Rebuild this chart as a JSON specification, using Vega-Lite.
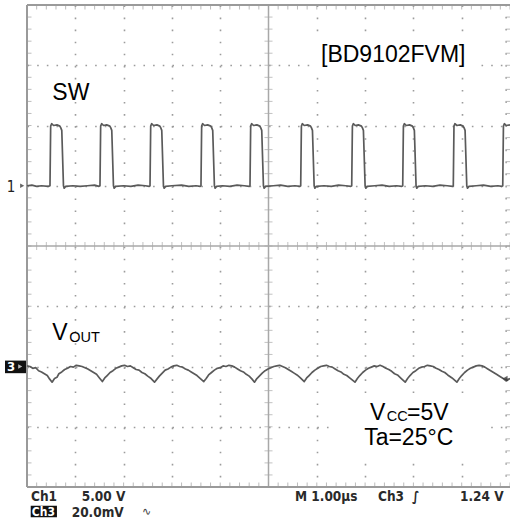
{
  "$schema": "https://vega.github.io/schema/vega-lite/v6.json",
  "width": 483,
  "height": 482,
  "autosize": {"type": "none"},
  "padding": {"left": 27, "top": 5, "right": 0, "bottom": 38},
  "background": "white",
  "config": {"view": {"stroke": null}},
  "datasets": {
    "mx": [0,0.2,0.4,0.6,0.8,1,1.2,1.4,1.6,1.8,2,2.2,2.4,2.6,2.8,3,3.2,3.4,3.6,3.8,4,4.2,4.4,4.6,4.8,5,5.2,5.4,5.6,5.8,6,6.2,6.4,6.6,6.8,7,7.2,7.4,7.6,7.8,8,8.2,8.4,8.6,8.8,9,9.2,9.4,9.6,9.8,10],
    "my": [-4,-3.8,-3.6,-3.4,-3.2,-3,-2.8,-2.6,-2.4,-2.2,-2,-1.8,-1.6,-1.4,-1.2,-1,-0.8,-0.6,-0.4,-0.2,0,0.2,0.4,0.6,0.8,1,1.2,1.4,1.6,1.8,2,2.2,2.4,2.6,2.8,3,3.2,3.4,3.6,3.8,4],
    "sw": [
      {"t":0,"v":1.0},{"t":0.1,"v":1.01},{"t":0.2,"v":0.99},{"t":0.3,"v":1.0},{"t":0.44,"v":0.99},
      {"t":0.476,"v":1.0},{"t":0.49,"v":1.99},{"t":0.51,"v":2.03},{"t":0.55,"v":2.0},{"t":0.62,"v":2.01},{"t":0.68,"v":1.99},{"t":0.7,"v":1.96},{"t":0.72,"v":1.92},{"t":0.755,"v":1.0},{"t":0.77,"v":0.96},{"t":0.8,"v":0.99},{"t":0.95,"v":1.0},{"t":1.1,"v":0.99},{"t":1.25,"v":1.0},{"t":1.4,"v":1.01},{"t":1.49,"v":0.99},
      {"t":1.511,"v":1.0},{"t":1.525,"v":1.99},{"t":1.545,"v":2.03},{"t":1.585,"v":2.0},{"t":1.65,"v":2.01},{"t":1.715,"v":1.99},{"t":1.735,"v":1.96},{"t":1.755,"v":1.92},{"t":1.79,"v":1.0},{"t":1.805,"v":0.96},{"t":1.835,"v":0.99},{"t":2.0,"v":1.0},{"t":2.15,"v":0.99},{"t":2.3,"v":1.01},{"t":2.45,"v":1.0},{"t":2.53,"v":0.99},
      {"t":2.547,"v":1.0},{"t":2.561,"v":1.99},{"t":2.58,"v":2.03},{"t":2.62,"v":2.0},{"t":2.69,"v":2.01},{"t":2.75,"v":1.99},{"t":2.77,"v":1.96},{"t":2.79,"v":1.92},{"t":2.825,"v":1.0},{"t":2.84,"v":0.96},{"t":2.87,"v":0.99},{"t":3.0,"v":1.0},{"t":3.2,"v":1.01},{"t":3.35,"v":0.99},{"t":3.5,"v":1.0},{"t":3.585,"v":0.99},
      {"t":3.602,"v":1.0},{"t":3.616,"v":1.99},{"t":3.635,"v":2.03},{"t":3.675,"v":2.0},{"t":3.74,"v":2.01},{"t":3.805,"v":1.99},{"t":3.825,"v":1.96},{"t":3.845,"v":1.92},{"t":3.88,"v":1.0},{"t":3.895,"v":0.96},{"t":3.925,"v":0.99},{"t":4.05,"v":1.0},{"t":4.2,"v":0.99},{"t":4.35,"v":1.01},{"t":4.5,"v":1.0},{"t":4.6,"v":0.99},
      {"t":4.617,"v":1.0},{"t":4.631,"v":1.99},{"t":4.65,"v":2.03},{"t":4.69,"v":2.0},{"t":4.76,"v":2.01},{"t":4.82,"v":1.99},{"t":4.84,"v":1.96},{"t":4.86,"v":1.92},{"t":4.895,"v":1.0},{"t":4.91,"v":0.96},{"t":4.94,"v":0.99},{"t":5.1,"v":1.0},{"t":5.25,"v":1.01},{"t":5.4,"v":0.99},{"t":5.55,"v":1.0},{"t":5.65,"v":0.99},
      {"t":5.667,"v":1.0},{"t":5.681,"v":1.99},{"t":5.7,"v":2.03},{"t":5.74,"v":2.0},{"t":5.81,"v":2.01},{"t":5.87,"v":1.99},{"t":5.89,"v":1.96},{"t":5.91,"v":1.92},{"t":5.945,"v":1.0},{"t":5.96,"v":0.96},{"t":5.99,"v":0.99},{"t":6.15,"v":1.0},{"t":6.3,"v":0.99},{"t":6.45,"v":1.01},{"t":6.6,"v":1.0},{"t":6.705,"v":0.99},
      {"t":6.723,"v":1.0},{"t":6.737,"v":1.99},{"t":6.756,"v":2.03},{"t":6.796,"v":2.0},{"t":6.86,"v":2.01},{"t":6.925,"v":1.99},{"t":6.945,"v":1.96},{"t":6.965,"v":1.92},{"t":7.0,"v":1.0},{"t":7.015,"v":0.96},{"t":7.045,"v":0.99},{"t":7.2,"v":1.0},{"t":7.35,"v":1.01},{"t":7.5,"v":0.99},{"t":7.65,"v":1.0},{"t":7.76,"v":0.99},
      {"t":7.779,"v":1.0},{"t":7.793,"v":1.99},{"t":7.812,"v":2.03},{"t":7.852,"v":2.0},{"t":7.92,"v":2.01},{"t":7.98,"v":1.99},{"t":8.0,"v":1.96},{"t":8.02,"v":1.92},{"t":8.055,"v":1.0},{"t":8.07,"v":0.96},{"t":8.1,"v":0.99},{"t":8.25,"v":1.0},{"t":8.4,"v":0.99},{"t":8.55,"v":1.01},{"t":8.7,"v":1.0},{"t":8.81,"v":0.99},
      {"t":8.826,"v":1.0},{"t":8.84,"v":1.99},{"t":8.859,"v":2.03},{"t":8.9,"v":2.0},{"t":8.97,"v":2.01},{"t":9.03,"v":1.99},{"t":9.05,"v":1.96},{"t":9.07,"v":1.92},{"t":9.105,"v":1.0},{"t":9.12,"v":0.96},{"t":9.15,"v":0.99},{"t":9.3,"v":1.0},{"t":9.45,"v":1.01},{"t":9.6,"v":0.99},{"t":9.75,"v":1.0},{"t":9.83,"v":0.99},
      {"t":9.85,"v":1.0},{"t":9.864,"v":1.99},{"t":9.883,"v":2.03},{"t":9.92,"v":2.0},{"t":10.0,"v":2.01}
    ],
    "vout": [
      {"t":0,"v":-1.99},{"t":0.06,"v":-2.0},{"t":0.12,"v":-2.03},{"t":0.18,"v":-2.02},{"t":0.24,"v":-2.07},{"t":0.3,"v":-2.09},{"t":0.36,"v":-2.12},{"t":0.42,"v":-2.15},{"t":0.47,"v":-2.21},{"t":0.52,"v":-2.26},
      {"t":0.57,"v":-2.2},{"t":0.62,"v":-2.18},{"t":0.66,"v":-2.12},{"t":0.72,"v":-2.09},{"t":0.78,"v":-2.05},{"t":0.84,"v":-2.03},{"t":0.9,"v":-2.0},{"t":0.96,"v":-2.01},{"t":1.02,"v":-1.98},{"t":1.08,"v":-1.99},{"t":1.14,"v":-2.0},{"t":1.2,"v":-2.02},{"t":1.26,"v":-2.04},{"t":1.32,"v":-2.07},{"t":1.38,"v":-2.1},{"t":1.44,"v":-2.13},{"t":1.5,"v":-2.19},{"t":1.56,"v":-2.25},
      {"t":1.61,"v":-2.19},{"t":1.66,"v":-2.15},{"t":1.72,"v":-2.1},{"t":1.78,"v":-2.07},{"t":1.84,"v":-2.03},{"t":1.9,"v":-2.01},{"t":1.96,"v":-1.99},{"t":2.02,"v":-1.98},{"t":2.08,"v":-2.0},{"t":2.14,"v":-1.99},{"t":2.2,"v":-2.02},{"t":2.26,"v":-2.05},{"t":2.32,"v":-2.06},{"t":2.38,"v":-2.1},{"t":2.44,"v":-2.12},{"t":2.5,"v":-2.16},{"t":2.57,"v":-2.2},{"t":2.64,"v":-2.26},
      {"t":2.69,"v":-2.21},{"t":2.74,"v":-2.16},{"t":2.8,"v":-2.11},{"t":2.86,"v":-2.06},{"t":2.92,"v":-2.04},{"t":2.98,"v":-2.01},{"t":3.04,"v":-1.99},{"t":3.1,"v":-1.98},{"t":3.16,"v":-2.0},{"t":3.22,"v":-2.01},{"t":3.28,"v":-2.04},{"t":3.34,"v":-2.06},{"t":3.4,"v":-2.09},{"t":3.46,"v":-2.12},{"t":3.52,"v":-2.15},{"t":3.59,"v":-2.2},{"t":3.66,"v":-2.25},
      {"t":3.71,"v":-2.2},{"t":3.76,"v":-2.14},{"t":3.82,"v":-2.1},{"t":3.88,"v":-2.06},{"t":3.94,"v":-2.03},{"t":4.0,"v":-2.02},{"t":4.06,"v":-1.99},{"t":4.12,"v":-2.0},{"t":4.18,"v":-1.98},{"t":4.24,"v":-1.99},{"t":4.3,"v":-2.01},{"t":4.36,"v":-2.04},{"t":4.42,"v":-2.07},{"t":4.48,"v":-2.09},{"t":4.54,"v":-2.13},{"t":4.6,"v":-2.16},{"t":4.66,"v":-2.21},{"t":4.71,"v":-2.26},
      {"t":4.76,"v":-2.2},{"t":4.81,"v":-2.16},{"t":4.87,"v":-2.11},{"t":4.93,"v":-2.07},{"t":4.99,"v":-2.04},{"t":5.05,"v":-2.02},{"t":5.11,"v":-2.0},{"t":5.17,"v":-1.99},{"t":5.23,"v":-1.98},{"t":5.29,"v":-2.0},{"t":5.35,"v":-2.02},{"t":5.41,"v":-2.05},{"t":5.47,"v":-2.08},{"t":5.53,"v":-2.11},{"t":5.59,"v":-2.14},{"t":5.65,"v":-2.18},{"t":5.74,"v":-2.25},
      {"t":5.79,"v":-2.19},{"t":5.84,"v":-2.15},{"t":5.9,"v":-2.1},{"t":5.96,"v":-2.06},{"t":6.02,"v":-2.03},{"t":6.08,"v":-2.0},{"t":6.14,"v":-1.99},{"t":6.2,"v":-1.98},{"t":6.26,"v":-2.0},{"t":6.32,"v":-2.01},{"t":6.38,"v":-2.04},{"t":6.44,"v":-2.07},{"t":6.5,"v":-2.09},{"t":6.56,"v":-2.13},{"t":6.62,"v":-2.15},{"t":6.7,"v":-2.2},{"t":6.79,"v":-2.26},
      {"t":6.84,"v":-2.2},{"t":6.89,"v":-2.15},{"t":6.95,"v":-2.1},{"t":7.01,"v":-2.06},{"t":7.07,"v":-2.03},{"t":7.13,"v":-2.01},{"t":7.19,"v":-1.99},{"t":7.25,"v":-2.0},{"t":7.31,"v":-1.98},{"t":7.37,"v":-2.0},{"t":7.43,"v":-2.03},{"t":7.49,"v":-2.05},{"t":7.55,"v":-2.08},{"t":7.61,"v":-2.12},{"t":7.67,"v":-2.14},{"t":7.75,"v":-2.2},{"t":7.83,"v":-2.26},
      {"t":7.88,"v":-2.2},{"t":7.93,"v":-2.15},{"t":7.99,"v":-2.1},{"t":8.05,"v":-2.07},{"t":8.11,"v":-2.03},{"t":8.17,"v":-2.01},{"t":8.23,"v":-2.0},{"t":8.29,"v":-1.98},{"t":8.35,"v":-1.99},{"t":8.41,"v":-2.0},{"t":8.47,"v":-2.03},{"t":8.53,"v":-2.05},{"t":8.59,"v":-2.08},{"t":8.65,"v":-2.1},{"t":8.71,"v":-2.14},{"t":8.8,"v":-2.19},{"t":8.9,"v":-2.26},
      {"t":8.95,"v":-2.2},{"t":9.0,"v":-2.15},{"t":9.06,"v":-2.1},{"t":9.12,"v":-2.06},{"t":9.18,"v":-2.03},{"t":9.24,"v":-2.01},{"t":9.3,"v":-1.99},{"t":9.36,"v":-1.98},{"t":9.42,"v":-1.99},{"t":9.48,"v":-2.01},{"t":9.54,"v":-2.04},{"t":9.6,"v":-2.07},{"t":9.66,"v":-2.1},{"t":9.72,"v":-2.13},{"t":9.8,"v":-2.17},{"t":9.86,"v":-2.2},{"t":9.92,"v":-2.24},{"t":10.0,"v":-2.2}
    ],
    "big": [
      {"t":0.524,"v":2.421,"label":"SW"},
      {"t":6.087,"v":3.057,"label":"[BD9102FVM]"},
      {"t":0.524,"v":-1.559,"label":"V"},
      {"t":7.101,"v":-2.886,"label":"V"},
      {"t":7.87,"v":-2.886,"label":"=5V"},
      {"t":6.98,"v":-3.3,"label":"Ta=25°C"}
    ],
    "sub": [
      {"t":0.876,"v":-1.587,"label":"OUT"},
      {"t":7.45,"v":-2.91,"label":"CC"}
    ],
    "scope": [
      {"t":0.083,"v":-4.24,"label":"Ch1"},
      {"t":1.133,"v":-4.24,"label":"5.00 V"},
      {"t":5.549,"v":-4.24,"label":"M 1.00µs"},
      {"t":7.267,"v":-4.24,"label":"Ch3"},
      {"t":7.97,"v":-4.24,"label":"∫"},
      {"t":8.965,"v":-4.24,"label":"1.24 V"},
      {"t":0.925,"v":-4.494,"label":"20.0mV"}
    ]
  },
  "layer": [
    {
      "data": {"values": [{}]},
      "mark": {"type": "rule", "color": "#a8a8a8", "strokeWidth": 1.5},
      "encoding": {"x": {"datum": 5, "type": "quantitative"}}
    },
    {
      "data": {"values": [{}]},
      "mark": {"type": "rule", "color": "#a8a8a8", "strokeWidth": 1.5},
      "encoding": {"y": {"datum": 0, "type": "quantitative"}}
    },
    {
      "data": {"values": [{}]},
      "mark": {"type": "rule", "color": "#a0a0a0", "strokeWidth": 1.5, "strokeDash": [1.5, 10.56]},
      "encoding": {"x": {"datum": 9.92, "type": "quantitative"}}
    },
    {
      "data": {"name": "mx"},
      "mark": {"type": "tick", "orient": "vertical", "color": "#a8a8a8", "thickness": 1, "size": 8},
      "encoding": {"x": {"field": "data", "type": "quantitative"}, "y": {"datum": 0, "type": "quantitative"}}
    },
    {
      "data": {"name": "my"},
      "mark": {"type": "tick", "orient": "horizontal", "color": "#a8a8a8", "thickness": 1, "size": 8},
      "encoding": {"y": {"field": "data", "type": "quantitative"}, "x": {"datum": 5, "type": "quantitative"}}
    },
    {
      "data": {"name": "mx"},
      "mark": {"type": "tick", "orient": "vertical", "color": "#a0a0a0", "thickness": 1, "size": 9, "clip": true},
      "encoding": {"x": {"field": "data", "type": "quantitative"}, "y": {"datum": 4, "type": "quantitative"}}
    },
    {
      "data": {"name": "mx"},
      "mark": {"type": "tick", "orient": "vertical", "color": "#a0a0a0", "thickness": 1, "size": 9, "clip": true},
      "encoding": {"x": {"field": "data", "type": "quantitative"}, "y": {"datum": -4, "type": "quantitative"}}
    },
    {
      "data": {"name": "my"},
      "mark": {"type": "tick", "orient": "horizontal", "color": "#a0a0a0", "thickness": 1, "size": 9, "clip": true},
      "encoding": {"y": {"field": "data", "type": "quantitative"}, "x": {"datum": 0, "type": "quantitative"}}
    },
    {
      "data": {"name": "my"},
      "mark": {"type": "tick", "orient": "horizontal", "color": "#a0a0a0", "thickness": 1, "size": 9, "clip": true},
      "encoding": {"y": {"field": "data", "type": "quantitative"}, "x": {"datum": 10, "type": "quantitative"}}
    },
    {
      "data": {"values": [{}]},
      "mark": {"type": "rule", "color": "#9a9a9a", "strokeWidth": 2},
      "encoding": {"y": {"datum": 4, "type": "quantitative"}}
    },
    {
      "data": {"values": [{}]},
      "mark": {"type": "rule", "color": "#9a9a9a", "strokeWidth": 2},
      "encoding": {"y": {"datum": -4, "type": "quantitative"}}
    },
    {
      "data": {"values": [{}]},
      "mark": {"type": "rule", "color": "#9a9a9a", "strokeWidth": 2},
      "encoding": {"x": {"datum": 0, "type": "quantitative"}}
    },
    {
      "data": {"values": [{}]},
      "mark": {"type": "rect", "color": "white"},
      "encoding": {"x": {"datum": 5.859, "type": "quantitative"}, "x2": {"datum": 9.379}, "y": {"datum": 3.466, "type": "quantitative"}, "y2": {"datum": 2.836}}
    },
    {
      "data": {"values": [{}]},
      "mark": {"type": "rect", "color": "white"},
      "encoding": {"x": {"datum": 6.377, "type": "quantitative"}, "x2": {"datum": 9.545}, "y": {"datum": -2.504, "type": "quantitative"}, "y2": {"datum": -3.582}}
    },
    {
      "data": {"name": "sw"},
      "mark": {"type": "line", "color": "#5a5a5a", "strokeWidth": 1.7, "strokeJoin": "round"},
      "encoding": {
        "x": {"field": "t", "type": "quantitative", "scale": {"domain": [0, 10], "nice": false, "zero": false},
          "axis": {"values": [1,2,3,4,6,7,8,9], "grid": true, "gridColor": "#9c9c9c", "gridOpacity": 1, "gridWidth": 1.6, "gridDash": [1.6, 10.46], "labels": false, "ticks": false, "domain": false, "title": null}},
        "y": {"field": "v", "type": "quantitative", "scale": {"domain": [-4, 4], "nice": false, "zero": false},
          "axis": {"values": [-3,-2,-1,1,2,3], "grid": true, "gridColor": "#9c9c9c", "gridOpacity": 1, "gridWidth": 1.6, "gridDash": [1.6, 8.06], "labels": false, "ticks": false, "domain": false, "title": null}}
      }
    },
    {
      "data": {"name": "vout"},
      "mark": {"type": "line", "color": "#5a5a5a", "strokeWidth": 1.7, "strokeJoin": "round"},
      "encoding": {"x": {"field": "t", "type": "quantitative"}, "y": {"field": "v", "type": "quantitative"}}
    },
    {
      "data": {"name": "big"},
      "mark": {"type": "text", "font": "Liberation Sans", "fontSize": 23, "align": "left", "baseline": "alphabetic", "color": "black"},
      "encoding": {"x": {"field": "t", "type": "quantitative"}, "y": {"field": "v", "type": "quantitative"}, "text": {"field": "label"}}
    },
    {
      "data": {"name": "sub"},
      "mark": {"type": "text", "font": "Liberation Sans", "fontSize": 14.5, "align": "left", "baseline": "alphabetic", "color": "black"},
      "encoding": {"x": {"field": "t", "type": "quantitative"}, "y": {"field": "v", "type": "quantitative"}, "text": {"field": "label"}}
    },
    {
      "data": {"name": "scope"},
      "mark": {"type": "text", "font": "DejaVu Sans Condensed", "fontWeight": "bold", "fontSize": 13.5, "align": "left", "baseline": "alphabetic", "color": "#2a2a2a"},
      "encoding": {"x": {"field": "t", "type": "quantitative"}, "y": {"field": "v", "type": "quantitative"}, "text": {"field": "label"}}
    },
    {
      "data": {"values": [{}]},
      "mark": {"type": "text", "font": "DejaVu Sans Condensed", "fontSize": 15, "align": "left", "baseline": "alphabetic", "color": "#222", "text": "1"},
      "encoding": {"x": {"datum": -0.42, "type": "quantitative"}, "y": {"datum": 0.9, "type": "quantitative"}}
    },
    {
      "data": {"values": [{}]},
      "mark": {"type": "rect", "color": "#111111"},
      "encoding": {"x": {"datum": 0.077, "type": "quantitative"}, "x2": {"datum": 0.62}, "y": {"datum": -4.31, "type": "quantitative"}, "y2": {"datum": -4.5}}
    },
    {
      "data": {"values": [{}]},
      "mark": {"type": "text", "font": "DejaVu Sans Condensed", "fontWeight": "bold", "fontSize": 12, "align": "left", "baseline": "alphabetic", "color": "white", "text": "Ch3"},
      "encoding": {"x": {"datum": 0.1, "type": "quantitative"}, "y": {"datum": -4.48, "type": "quantitative"}}
    },
    {
      "data": {"values": [{}]},
      "mark": {"type": "text", "font": "DejaVu Sans", "fontSize": 11, "align": "left", "baseline": "alphabetic", "color": "#444", "text": "∿"},
      "encoding": {"x": {"datum": 2.38, "type": "quantitative"}, "y": {"datum": -4.47, "type": "quantitative"}}
    },
    {
      "data": {"values": [{}]},
      "mark": {"type": "rect", "color": "#111111"},
      "encoding": {"x": {"datum": -0.455, "type": "quantitative"}, "x2": {"datum": -0.021}, "y": {"datum": -1.902, "type": "quantitative"}, "y2": {"datum": -2.111}}
    },
    {
      "data": {"values": [{}]},
      "mark": {"type": "text", "font": "DejaVu Sans Condensed", "fontWeight": "bold", "fontSize": 13, "align": "left", "baseline": "alphabetic", "color": "white", "text": "3"},
      "encoding": {"x": {"datum": -0.414, "type": "quantitative"}, "y": {"datum": -2.075, "type": "quantitative"}}
    },
    {
      "data": {"values": [{}]},
      "mark": {"type": "point", "shape": "triangle-right", "filled": true, "color": "white", "size": 22},
      "encoding": {"x": {"datum": -0.14, "type": "quantitative"}, "y": {"datum": -2.0, "type": "quantitative"}}
    },
    {
      "data": {"values": [{}]},
      "mark": {"type": "point", "shape": "triangle-right", "filled": true, "color": "#222", "size": 22},
      "encoding": {"x": {"datum": -0.1, "type": "quantitative"}, "y": {"datum": 1.0, "type": "quantitative"}}
    },
    {
      "data": {"values": [{}]},
      "mark": {"type": "point", "shape": "triangle-left", "filled": true, "color": "#222", "size": 30},
      "encoding": {"x": {"datum": 9.9, "type": "quantitative"}, "y": {"datum": -2.2, "type": "quantitative"}}
    }
  ]
}
